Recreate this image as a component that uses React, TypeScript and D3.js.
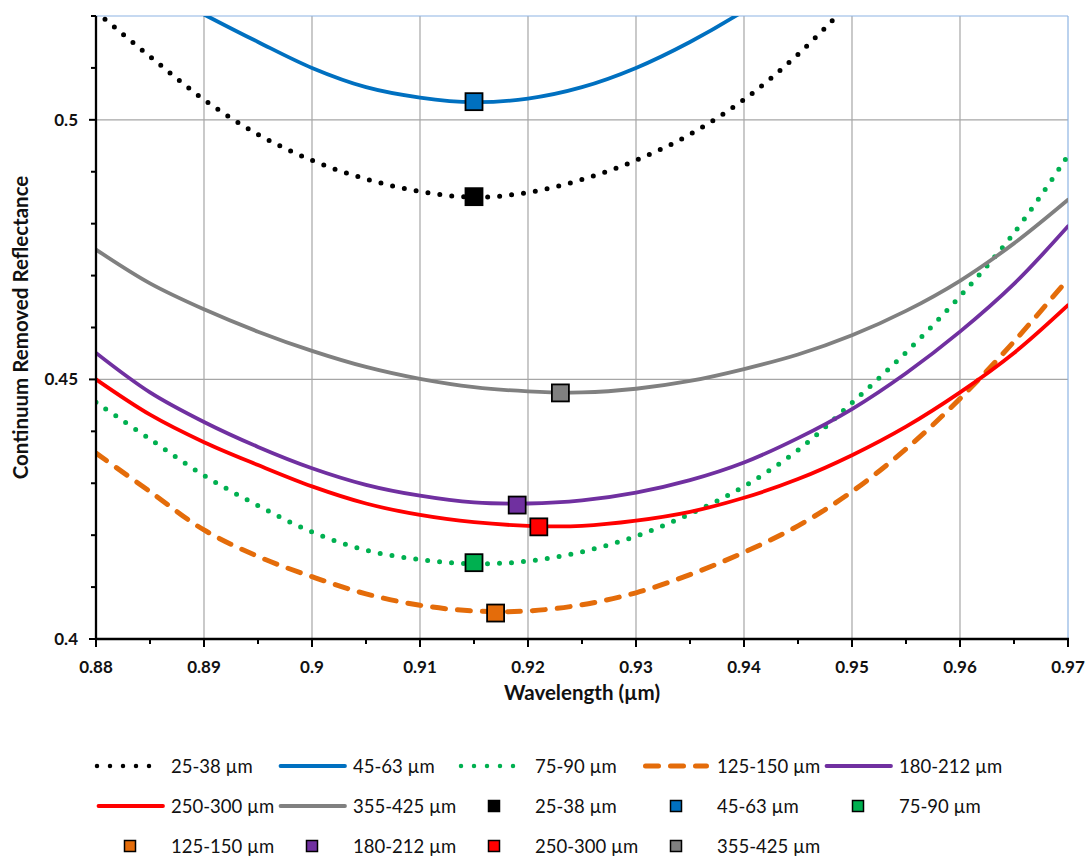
import React from 'react';
import * as d3 from 'd3';

// ---- data ----
const wavelengths = [0.88, 0.885, 0.89, 0.895, 0.9, 0.905, 0.91, 0.915, 0.92, 0.925, 0.93, 0.935, 0.94, 0.945, 0.95, 0.955, 0.96, 0.965, 0.97];

const r25_38 = [0.5208, 0.5122, 0.5039, 0.4972, 0.4922, 0.4886, 0.4862, 0.4851, 0.486, 0.4885, 0.4922, 0.4972, 0.5039, 0.5126, 0.523, null, null, null, null];
const r45_63 = [null, 0.5258, 0.5203, 0.515, 0.51, 0.5063, 0.5043, 0.5034, 0.5041, 0.5063, 0.51, 0.515, 0.521, 0.528, null, null, null, null, null];
const r75_90 = [0.4456, 0.4385, 0.4315, 0.4257, 0.4206, 0.4171, 0.4153, 0.4145, 0.415, 0.4168, 0.4198, 0.4241, 0.4294, 0.4364, 0.4455, 0.4552, 0.466, 0.4782, 0.4931];
const r125_150 = [0.4358, 0.4284, 0.421, 0.4159, 0.412, 0.4087, 0.4065, 0.4054, 0.4054, 0.4066, 0.4089, 0.4124, 0.4167, 0.4218, 0.4284, 0.4366, 0.4463, 0.4573, 0.4693];
const r180_212 = [0.4551, 0.4475, 0.4418, 0.437, 0.4329, 0.4297, 0.4276, 0.4263, 0.4261, 0.4267, 0.4282, 0.4306, 0.434, 0.4387, 0.4443, 0.4512, 0.4592, 0.4684, 0.4795];
const r250_300 = [0.45, 0.4432, 0.4379, 0.4335, 0.4294, 0.4261, 0.4239, 0.4225, 0.4218, 0.4218, 0.4228, 0.4245, 0.4272, 0.4308, 0.4354, 0.4409, 0.4475, 0.4551, 0.4643];
const r355_425 = [0.475, 0.4685, 0.4635, 0.4592, 0.4555, 0.4524, 0.4501, 0.4485, 0.4477, 0.4475, 0.4482, 0.4497, 0.452, 0.4548, 0.4585, 0.4632, 0.469, 0.4762, 0.4846];

const seriesNames = ['25-38 µm', '45-63 µm', '75-90 µm', '125-150 µm', '180-212 µm', '250-300 µm', '355-425 µm'];
const seriesValues = [r25_38, r45_63, r75_90, r125_150, r180_212, r250_300, r355_425];
const seriesColors = ['#000000', '#0070C0', '#00B050', '#E46C0A', '#7030A0', '#FF0000', '#808080'];
const seriesStyles = ['dot', 'solid', 'dot', 'dash', 'solid', 'solid', 'solid'];

// minimum markers
const minWavelengths = [0.915, 0.915, 0.915, 0.917, 0.919, 0.921, 0.923];
const minValues = [0.4852, 0.5035, 0.4147, 0.405, 0.4258, 0.4216, 0.4474];

const xTicks = [0.88, 0.89, 0.9, 0.91, 0.92, 0.93, 0.94, 0.95, 0.96, 0.97];
const yTicks = [0.4, 0.45, 0.5];

// ---- layout ----
const W = 1087, H = 856;
const L = 96, R = 1068, T = 16, B = 639;
const FONT = 'Lato, "Open Sans", sans-serif';

export default function App() {
  const x = d3.scaleLinear().domain([0.88, 0.97]).range([L, R]);
  const y = d3.scaleLinear().domain([0.4, 0.52]).range([B, T]);

  const line = d3.line<[number, number | null]>()
    .defined(d => d[1] !== null)
    .x(d => x(d[0]))
    .y(d => y(d[1] as number))
    .curve(d3.curveCatmullRom.alpha(0.5));

  const dashFor = (s: string) => s === 'dot' ? '0 12' : s === 'dash' ? '13 12' : undefined;
  const widthFor = (s: string) => s === 'dot' ? 5 : s === 'dash' ? 5 : 3.8;

  const xMinor = d3.range(0, 19).map(i => 0.88 + i * 0.005);
  const yMinor = d3.range(0, 13).map(i => 0.4 + i * 0.01);

  // legend entries: 7 lines then 7 markers
  const legendItems = [
    ...seriesNames.map((n, i) => ({ kind: 'line', i, name: n })),
    ...seriesNames.map((n, i) => ({ kind: 'marker', i, name: n })),
  ];
  const legCol0 = 97, legColW = 182, legRow0 = 766, legRowH = 40;

  return (
    <svg width={W} height={H} style={{ position: 'absolute', left: 0, top: 0, background: '#fff' }} fontFamily={FONT}>
      <defs>
        <clipPath id="plotClip">
          <rect x={L} y={T} width={R - L} height={B - T} />
        </clipPath>
      </defs>
      <rect x={0} y={0} width={W} height={H} fill="#fff" />
      {/* gridlines */}
      {xTicks.filter(v => v > 0.881 && v < 0.969).map(v => (
        <line key={'gx' + v} x1={x(v)} x2={x(v)} y1={T} y2={B} stroke="#A6A6A6" strokeWidth={1.2} />
      ))}
      {[0.45, 0.5].map(v => (
        <line key={'gy' + v} x1={L} x2={R} y1={y(v)} y2={y(v)} stroke="#A6A6A6" strokeWidth={1.2} />
      ))}
      <line x1={L} x2={R} y1={T} y2={T} stroke="#8EB4E3" strokeWidth={1.2} />
      <line x1={R} x2={R} y1={T} y2={B} stroke="#8EB4E3" strokeWidth={1.2} />

      {/* series lines */}
      <g clipPath="url(#plotClip)">
        {seriesValues.map((vals, si) => (
          <path key={'s' + si}
            d={line(wavelengths.map((w, k) => [w, vals[k]] as [number, number | null])) || ''}
            fill="none"
            stroke={seriesColors[si]}
            strokeWidth={widthFor(seriesStyles[si])}
            strokeDasharray={dashFor(seriesStyles[si])}
            strokeLinecap="round"
            strokeLinejoin="round" />
        ))}
      </g>

      {/* axes */}
      <line x1={L} x2={L} y1={T} y2={B + 1} stroke="#000" strokeWidth={2.3} />
      <line x1={L - 1} x2={R + 1} y1={B} y2={B} stroke="#000" strokeWidth={2.3} />
      {xMinor.map((v, i) => (
        <line key={'xt' + i} x1={x(v)} x2={x(v)} y1={B} y2={B + (i % 2 === 0 ? 8 : 5)} stroke="#000" strokeWidth={2} />
      ))}
      {yMinor.map((v, i) => (
        <line key={'yt' + i} x1={L} x2={L - (i % 5 === 0 ? 7 : 5)} y1={y(v)} y2={y(v)} stroke="#000" strokeWidth={2} />
      ))}
      {xTicks.map(v => (
        <text key={'xl' + v} x={x(v)} y={673} textAnchor="middle" fontSize={17} fontWeight="bold" fill="#111">
          {String(+v.toFixed(2))}
        </text>
      ))}
      {yTicks.map(v => (
        <text key={'yl' + v} x={78} y={y(v) + 6} textAnchor="end" fontSize={17} fontWeight="bold" fill="#111">
          {String(+v.toFixed(2))}
        </text>
      ))}

      {/* axis titles */}
      <text x={(L + R) / 2} y={700} textAnchor="middle" fontSize={20.5} fontWeight="bold" fill="#111">Wavelength (µm)</text>
      <text transform={`translate(28, ${(T + B) / 2}) rotate(-90)`} textAnchor="middle" fontSize={20.5} fontWeight="bold" fill="#111">Continuum Removed Reflectance</text>

      {/* minimum markers */}
      {minWavelengths.map((w, i) => (
        <rect key={'m' + i} x={x(w) - 8.5} y={y(minValues[i]) - 8.5} width={17} height={17}
          fill={seriesColors[i]} stroke="#000" strokeWidth={1.8} />
      ))}

      {/* legend */}
      {legendItems.map((it, k) => {
        const col = k % 5, row = Math.floor(k / 5);
        const x0 = legCol0 + col * legColW;
        const yy = legRow0 + row * legRowH;
        const st = seriesStyles[it.i];
        return (
          <g key={'lg' + k}>
            {it.kind === 'line' ? (
              st === 'dot' ? (
                <line x1={x0} x2={x0 + 65} y1={yy} y2={yy} stroke={seriesColors[it.i]} strokeWidth={4.5}
                  strokeDasharray="0 13" strokeLinecap="round" />
              ) : st === 'dash' ? (
                <line x1={x0 + 2.5} x2={x0 + 63.5} y1={yy} y2={yy} stroke={seriesColors[it.i]} strokeWidth={5}
                  strokeDasharray="13 12" strokeLinecap="round" />
              ) : (
                <line x1={x0 + 1.5} x2={x0 + 66} y1={yy} y2={yy} stroke={seriesColors[it.i]} strokeWidth={3.8} strokeLinecap="round" />
              )
            ) : (
              <rect x={x0 + 33 - 5.5} y={yy - 5.5} width={11} height={11} fill={seriesColors[it.i]} stroke="#000" strokeWidth={1.5} />
            )}
            <text x={x0 + 74} y={yy + 6.5} fontSize={18.5} fill="#111">{it.name}</text>
          </g>
        );
      })}
    </svg>
  );
}
